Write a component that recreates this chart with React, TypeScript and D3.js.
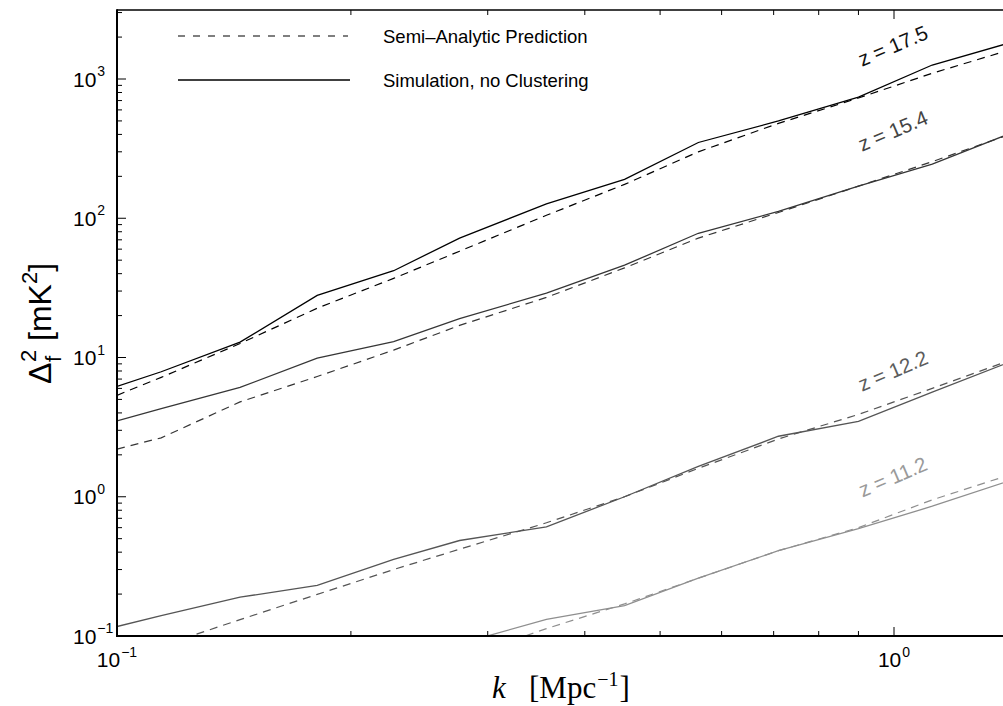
import React from "react";
import * as d3 from "d3";

// ---- data ----
const kValues = [0.1, 0.114, 0.144, 0.181, 0.227, 0.276, 0.357, 0.45, 0.56, 0.71, 0.9, 1.12, 1.4];

const simZ175 = [6.2, 7.9, 12.9, 27.9, 42, 72, 127, 190, 350, 500, 740, 1260, 1800];
const anaZ175 = [5.35, 7.2, 12.6, 22.6, 37, 58, 105, 175, 300, 480, 730, 1100, 1600];

const simZ154 = [3.5, 4.3, 6.1, 9.9, 13, 19, 29, 46, 78, 112, 170, 245, 400];
const anaZ154 = [2.2, 2.65, 4.8, 7.3, 11.3, 17, 27, 44, 72, 110, 170, 255, 395];

const simZ122 = [0.117, 0.14, 0.19, 0.231, 0.355, 0.485, 0.608, 1.0, 1.65, 2.72, 3.48, 5.65, 9.15];
const anaZ122 = [0.066, 0.085, 0.131, 0.199, 0.3, 0.42, 0.65, 1.0, 1.6, 2.6, 3.9, 6.0, 9.4];

const simZ112 = [null, null, null, null, null, 0.088, 0.1315, 0.165, 0.26, 0.41, 0.59, 0.855, 1.29];
const anaZ112 = [null, null, null, null, null, 0.069, 0.113, 0.17, 0.26, 0.41, 0.6, 0.95, 1.42];

const redshiftLabels = ["z = 17.5", "z = 15.4", "z = 12.2", "z = 11.2"];
const legendLabels = ["Semi\u2013Analytic Prediction", "Simulation, no Clustering"];
const yTickExponents = [-1, 0, 1, 2, 3];
const xTickExponents = [-1, 0];

const seriesColors = ["#000000", "#363636", "#555555", "#8f8f8f"];
const labelColors = ["#111111", "#444444", "#5c5c5c", "#9a9a9a"];

export default function App() {
  const W = 1003;
  const H = 706;
  const left = 117;
  const right = 1003;
  const top = 10;
  const bottom = 636;

  const x = d3.scaleLog().domain([0.1, 1]).range([117, 894]);
  const y = d3.scaleLog().domain([0.1, 1000]).range([636, 79]);

  const sims = [simZ175, simZ154, simZ122, simZ112];
  const anas = [anaZ175, anaZ154, anaZ122, anaZ112];

  const line = d3
    .line<[number, number | null]>()
    .defined((d) => d[1] != null)
    .x((d) => x(d[0]))
    .y((d) => y(d[1] as number));

  const pairs = (vals: (number | null)[]) =>
    kValues.map((k, i) => [k, vals[i]] as [number, number | null]);

  // ticks
  const yTicks: { v: number; major: boolean }[] = [];
  for (let e = -1; e <= 3; e++) {
    for (let m = 1; m <= 9; m++) {
      const v = m * Math.pow(10, e);
      const py = y(v);
      if (py >= top - 0.5 && py <= bottom + 0.5) yTicks.push({ v, major: m === 1 });
    }
  }
  const xTicks: { v: number; major: boolean }[] = [];
  for (let e = -1; e <= 0; e++) {
    for (let m = 1; m <= 9; m++) {
      const v = m * Math.pow(10, e);
      const px = x(v);
      if (px >= left - 0.5 && px <= right + 0.5) xTicks.push({ v, major: m === 1 });
    }
  }
  const majorLen = 9;
  const minorLen = 5;

  // redshift label positions (page coords of label centres)
  const labelPos = [
    { cx: 893, cy: 46 },
    { cx: 893, cy: 131 },
    { cx: 893, cy: 371 },
    { cx: 893, cy: 477 },
  ];

  const sans = "'Liberation Sans', Arial, Helvetica, sans-serif";
  const serif = "'Liberation Serif', 'Times New Roman', serif";

  return (
    <svg
      width={W}
      height={H}
      viewBox={`0 0 ${W} ${H}`}
      style={{ position: "absolute", left: 0, top: 0, display: "block", background: "#fff" }}
    >
      <defs>
        <clipPath id="plotClip">
          <rect x={left} y={top} width={right - left} height={bottom - top} />
        </clipPath>
      </defs>
      <rect x={0} y={0} width={W} height={H} fill="#fff" />

      {/* data lines */}
      <g clipPath="url(#plotClip)" fill="none">
        {anas.map((a, i) => (
          <path
            key={"a" + i}
            d={line(pairs(a)) || ""}
            stroke={seriesColors[i]}
            strokeWidth={1.2}
            strokeDasharray="8,6"
          />
        ))}
        {sims.map((s, i) => (
          <path key={"s" + i} d={line(pairs(s)) || ""} stroke={seriesColors[i]} strokeWidth={1.3} />
        ))}
      </g>

      {/* axes frame */}
      <line x1={left} y1={top} x2={right} y2={top} stroke="#000" strokeWidth={1.5} />
      <line x1={left} y1={top - 0.75} x2={left} y2={bottom + 1} stroke="#000" strokeWidth={2} />
      <line x1={left - 1} y1={bottom} x2={right} y2={bottom} stroke="#000" strokeWidth={2} />

      {/* y ticks */}
      {yTicks.map((t, i) => (
        <line
          key={"yt" + i}
          x1={left}
          x2={left + (t.major ? majorLen : minorLen)}
          y1={y(t.v)}
          y2={y(t.v)}
          stroke="#000"
          strokeWidth={1}
        />
      ))}
      {/* x ticks bottom and top */}
      {xTicks.map((t, i) => (
        <g key={"xt" + i}>
          <line
            x1={x(t.v)}
            x2={x(t.v)}
            y1={bottom}
            y2={bottom - (t.major ? majorLen : minorLen)}
            stroke="#000"
            strokeWidth={1}
          />
          <line
            x1={x(t.v)}
            x2={x(t.v)}
            y1={top}
            y2={top + (t.major ? majorLen : minorLen)}
            stroke="#000"
            strokeWidth={1}
          />
        </g>
      ))}

      {/* y tick labels */}
      {yTickExponents.map((e) => (
        <text
          key={"yl" + e}
          x={73}
          y={y(Math.pow(10, e)) + 7.5}
          fontFamily={sans}
          fontSize={21}
          fill="#000"
        >
          10
          <tspan fontSize={14} dy={-10.5} dx={1}>
            {e < 0 ? "\u2212" + Math.abs(e) : String(e)}
          </tspan>
        </text>
      ))}

      {/* x tick labels */}
      {xTickExponents.map((e) => (
        <text
          key={"xl" + e}
          x={x(Math.pow(10, e))}
          y={667}
          textAnchor="middle"
          fontFamily={sans}
          fontSize={21}
          fill="#000"
        >
          10
          <tspan fontSize={14} dy={-10} dx={1}>
            {e < 0 ? "\u2212" + Math.abs(e) : String(e)}
          </tspan>
        </text>
      ))}

      {/* x axis title */}
      <text y={698} fontFamily={serif} fontSize={31} fill="#000">
        <tspan x={492} fontStyle="italic">k</tspan>
        <tspan x={529}>[Mpc</tspan>
        <tspan fontSize={20} dy={-12} dx={1}>{"\u22121"}</tspan>
        <tspan dy={12} dx={1}>]</tspan>
      </text>

      {/* y axis title */}
      <g transform="translate(51,384) rotate(-90)">
        <text x={0} y={0} fontFamily={sans} fontSize={32} fill="#000">
          {"\u0394"}
        </text>
        <text x={22} y={-15} fontFamily={sans} fontSize={22} fill="#000">
          2
        </text>
        <text x={22} y={10} fontFamily={sans} fontSize={22} fill="#000">
          f
        </text>
        <text x={43} y={0} fontFamily={sans} fontSize={32} fill="#000">
          [mK
          <tspan fontSize={22} dy={-14}>2</tspan>
          <tspan dy={14}>]</tspan>
        </text>
      </g>

      {/* legend */}
      <line x1={178} x2={348} y1={36} y2={36} stroke="#000" strokeWidth={1.2} strokeDasharray="7,8" />
      <line x1={178} x2={350} y1={80} y2={80} stroke="#000" strokeWidth={1.3} />
      <text x={383} y={42.5} fontFamily={sans} fontSize={18.5} fill="#000">
        {legendLabels[0]}
      </text>
      <text x={383} y={86.5} fontFamily={sans} fontSize={18.5} fill="#000">
        {legendLabels[1]}
      </text>

      {/* redshift labels */}
      {redshiftLabels.map((lab, i) => (
        <text
          key={"z" + i}
          transform={`translate(${labelPos[i].cx},${labelPos[i].cy}) rotate(-23)`}
          textAnchor="middle"
          dy={7}
          fontFamily={sans}
          fontSize={20.5}
          fill={labelColors[i]}
        >
          {lab}
        </text>
      ))}
    </svg>
  );
}
